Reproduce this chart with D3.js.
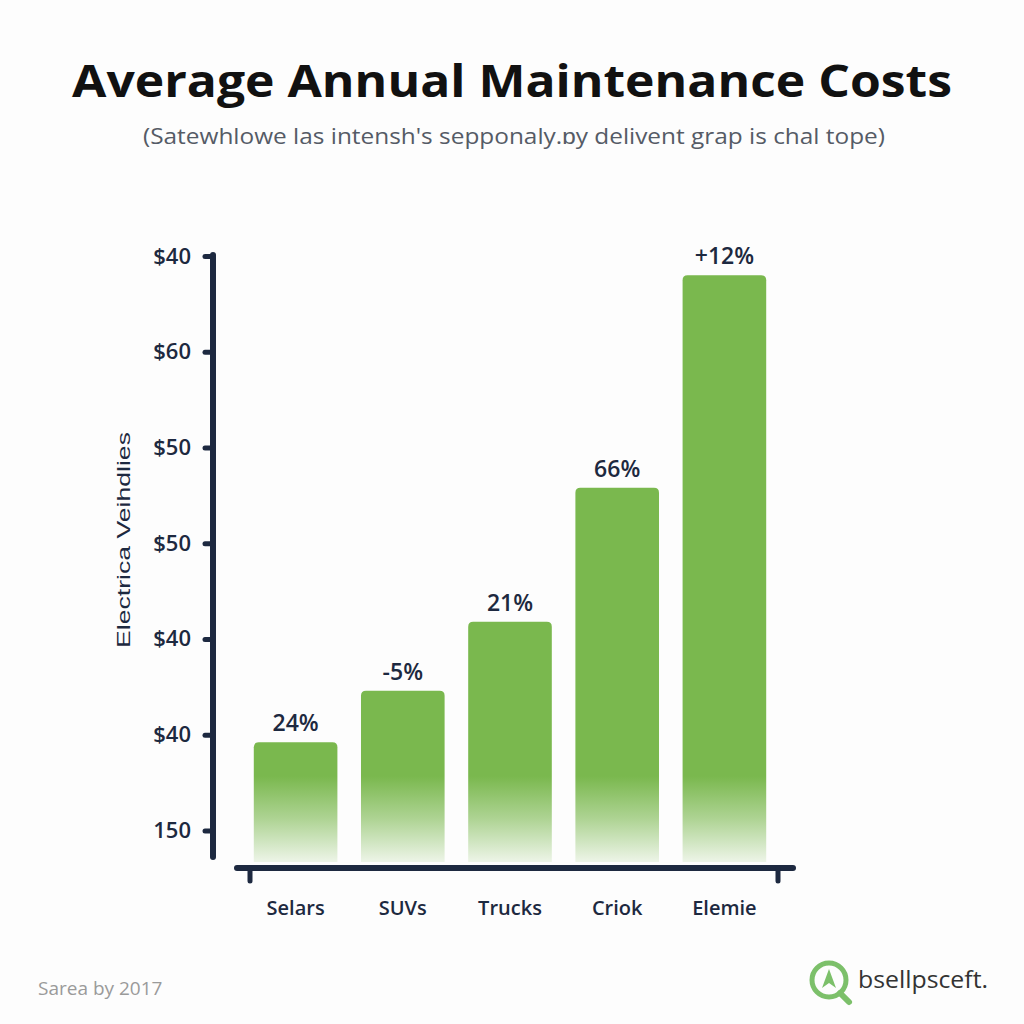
<!DOCTYPE html>
<html>
<head>
<meta charset="utf-8">
<script src="https://cdn.jsdelivr.net/npm/d3@7"></script>
<style>
  html,body{margin:0;padding:0;background:#fdfdfd;}
  svg{display:block;}
</style>
</head>
<body>
<div id="DrawingBoard"></div>
<script>
var width=1024,height=1024;

// data
var categories=["Selars","SUVs","Trucks","Criok","Elemie"];
var values=[0.92,1.46,2.18,3.58,5.80];          // in tick-step units
var barLabels=["24%","-5%","21%","66%","+12%"];
var tickLabels=["150","$40","$40","$50","$50","$60","$40"]; // bottom -> top

var navy="#1d2940", green="#7ab84e";

var svg=d3.select('#DrawingBoard')
    .append('svg')
    .attr('width',width)
    .attr('height',height);

svg.append('rect').attr('width',width).attr('height',height).attr('fill','#fdfdfd');

// gradient for the bars, fading out at the bottom
var defs=svg.append('defs');
var grad=defs.append('linearGradient')
    .attr('id','barFade')
    .attr('gradientUnits','userSpaceOnUse')
    .attr('x1',0).attr('x2',0).attr('y1',250).attr('y2',862);
grad.append('stop').attr('offset','0').attr('stop-color',green).attr('stop-opacity',1);
grad.append('stop').attr('offset','0.86').attr('stop-color',green).attr('stop-opacity',1);
grad.append('stop').attr('offset','0.93').attr('stop-color',green).attr('stop-opacity',0.6);
grad.append('stop').attr('offset','1').attr('stop-color',green).attr('stop-opacity',0.12);

// title + subtitle
svg.append('text')
    .attr('x',512).attr('y',97)
    .attr('text-anchor','middle')
    .attr('font-family','Open Sans, sans-serif')
    .attr('font-weight',700)
    .attr('font-size',45)
    .attr('fill','#111')
    .attr('textLength',880).attr('lengthAdjust','spacingAndGlyphs')
    .text('Average Annual Maintenance Costs');

svg.append('text')
    .attr('x',514).attr('y',144)
    .attr('text-anchor','middle')
    .attr('font-family','Open Sans, sans-serif')
    .attr('font-size',22)
    .attr('fill','#555b66')
    .attr('textLength',742).attr('lengthAdjust','spacingAndGlyphs')
    .text("(Satewhlowe las intensh's sepponaly.\u0252y delivent grap is chal tope)");

// scales
var x=d3.scaleBand()
    .domain(categories)
    .range([242,778])
    .paddingInner(0.22)
    .paddingOuter(0.11);

var y=d3.scaleLinear()
    .domain([-0.33,6])
    .range([862,256]);

// bars
var g=svg.append('g');
g.selectAll('path.bar')
    .data(values)
    .enter().append('path')
    .attr('class','bar')
    .attr('fill','url(#barFade)')
    .attr('d',function(d,i){
        var x0=x(categories[i]),w=x.bandwidth(),y0=y(d),y1=y(-0.33),r=5;
        return 'M'+x0+','+y1+'L'+x0+','+(y0+r)+'Q'+x0+','+y0+' '+(x0+r)+','+y0+
               'L'+(x0+w-r)+','+y0+'Q'+(x0+w)+','+y0+' '+(x0+w)+','+(y0+r)+
               'L'+(x0+w)+','+y1+'Z';
    });

g.selectAll('text.val')
    .data(values)
    .enter().append('text')
    .attr('class','val')
    .attr('x',function(d,i){return x(categories[i])+x.bandwidth()/2;})
    .attr('y',function(d){return y(d)-11;})
    .attr('text-anchor','middle')
    .attr('font-family','Open Sans, sans-serif')
    .attr('font-weight',600)
    .attr('font-size',23)
    .attr('fill',navy)
    .text(function(d,i){return barLabels[i];});

// y axis
var yAxis=d3.axisLeft(y)
    .tickValues(d3.range(tickLabels.length))
    .tickFormat(function(d){return tickLabels[d];})
    .tickSize(8)
    .tickPadding(14);

var ya=svg.append('g')
    .attr('transform','translate(213,0)')
    .call(yAxis);
ya.select('.domain').remove();
ya.selectAll('.tick line').attr('stroke',navy).attr('stroke-width',5).attr('stroke-linecap','round');
ya.selectAll('.tick text')
    .attr('font-family','Open Sans, sans-serif')
    .attr('font-weight',600)
    .attr('font-size',22)
    .attr('fill',navy);
ya.append('line')
    .attr('x1',0).attr('x2',0)
    .attr('y1',y(6)-1).attr('y2',857)
    .attr('stroke',navy).attr('stroke-width',6).attr('stroke-linecap','round');

// x axis
svg.append('line')
    .attr('x1',237).attr('x2',793)
    .attr('y1',868).attr('y2',868)
    .attr('stroke',navy).attr('stroke-width',6).attr('stroke-linecap','round');
[250,778].forEach(function(px){
    svg.append('line')
        .attr('x1',px).attr('x2',px).attr('y1',868).attr('y2',881)
        .attr('stroke',navy).attr('stroke-width',5).attr('stroke-linecap','round');
});
svg.selectAll('text.cat')
    .data(categories)
    .enter().append('text')
    .attr('class','cat')
    .attr('x',function(d){return x(d)+x.bandwidth()/2;})
    .attr('y',915)
    .attr('text-anchor','middle')
    .attr('font-family','Open Sans, sans-serif')
    .attr('font-weight',600)
    .attr('font-size',20)
    .attr('fill',navy)
    .text(function(d){return d;});

// y axis title
svg.append('text')
    .attr('transform','translate(130,540) rotate(-90)')
    .attr('text-anchor','middle')
    .attr('font-family','Liberation Sans, Arial, sans-serif')
    .attr('font-size',19)
    .attr('fill',navy)
    .attr('textLength',216).attr('lengthAdjust','spacingAndGlyphs')
    .text('Electrica Veihdlies');

// footer
svg.append('text')
    .attr('x',38).attr('y',995)
    .attr('font-family','Open Sans, sans-serif')
    .attr('font-size',19)
    .attr('fill','#9a9a9a')
    .text('Sarea by 2017');

var logo=svg.append('g').attr('transform','translate(829,980)');
logo.append('circle').attr('r',17).attr('fill','none').attr('stroke','#7cc06a').attr('stroke-width',5);
logo.append('line').attr('x1',11).attr('y1',13).attr('x2',20).attr('y2',22)
    .attr('stroke','#7cc06a').attr('stroke-width',6).attr('stroke-linecap','round');
logo.append('path').attr('d','M0,-11 L7,8 L0,3 L-7,8 Z').attr('fill','#7cc06a');
svg.append('text')
    .attr('x',858).attr('y',988)
    .attr('font-family','Open Sans, sans-serif')
    .attr('font-size',23)
    .attr('fill','#333')
    .attr('textLength',130).attr('lengthAdjust','spacingAndGlyphs')
    .text('bsellpsceft.');
</script>
</body>
</html>
